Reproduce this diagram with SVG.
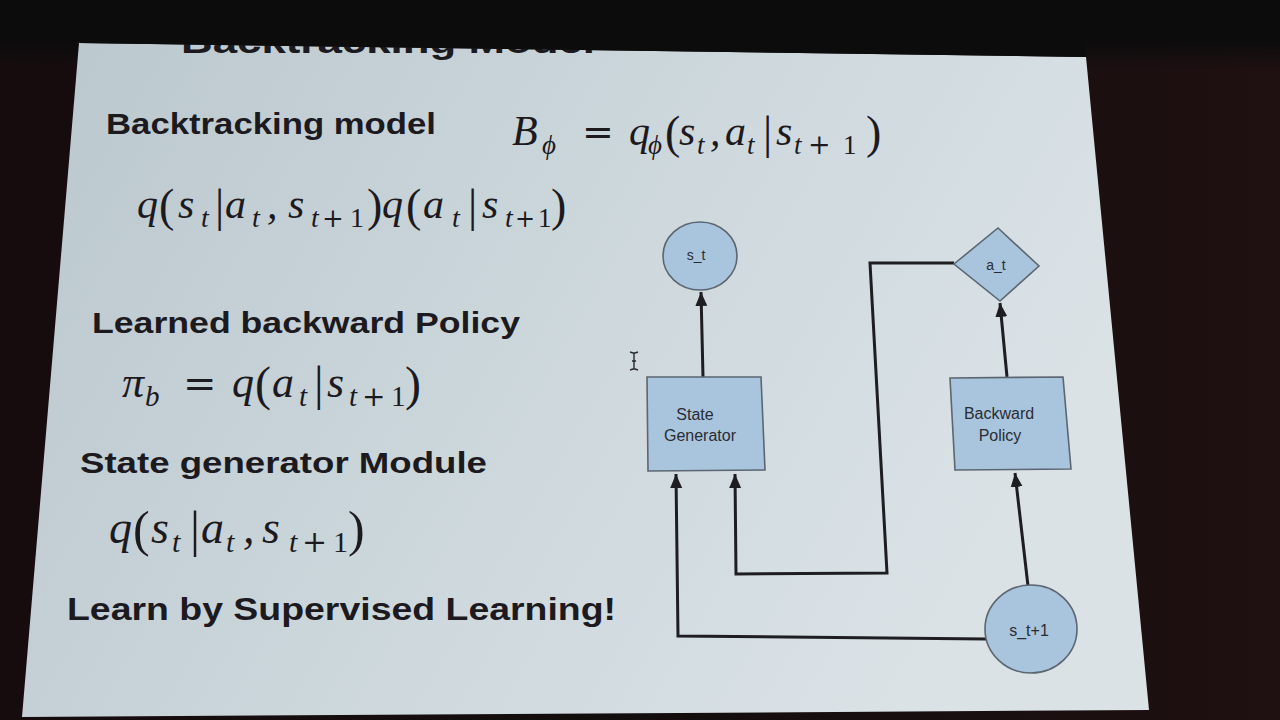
<svg xmlns="http://www.w3.org/2000/svg" width="1280" height="720" viewBox="0 0 1280 720">
<defs>
<linearGradient id="bg" x1="0" y1="0" x2="1" y2="0">
<stop offset="0" stop-color="#170c0d"/>
<stop offset="0.5" stop-color="#130d0e"/>
<stop offset="1" stop-color="#1f1011"/>
</linearGradient>
<linearGradient id="top" x1="0" y1="0" x2="0" y2="1">
<stop offset="0" stop-color="#0d0c0d"/>
<stop offset="0.6" stop-color="#0d0c0d"/>
<stop offset="1" stop-color="#0d0c0d" stop-opacity="0"/>
</linearGradient>
<linearGradient id="slide" x1="0" y1="0" x2="1" y2="0.35">
<stop offset="0" stop-color="#bac7cd"/>
<stop offset="0.5" stop-color="#cbd6db"/>
<stop offset="1" stop-color="#dae2e6"/>
</linearGradient>
<marker id="arr" markerUnits="userSpaceOnUse" markerWidth="16" markerHeight="14" refX="14" refY="6" orient="auto">
<path d="M0,0 L14,6 L0,12 z" fill="#1e1d22"/>
</marker>
<style>
.b{font-family:"Liberation Sans",Arial,sans-serif;font-weight:bold;fill:#1c1a1e}
.m{font-family:"Liberation Serif","DejaVu Serif",serif;font-style:italic;fill:#1c1a1e}
.u{font-style:normal}
.w{font-family:"DejaVu Serif",serif;font-style:normal}
.n{font-family:"Liberation Sans",Arial,sans-serif;fill:#2a2c33;text-anchor:middle}
.node{fill:#a9c5de;stroke:#5b6670;stroke-width:1.6}
.c{fill:none;stroke:#1e1d22;stroke-width:3;stroke-linejoin:miter}
</style>
</defs>
<rect x="0" y="0" width="1280" height="720" fill="url(#bg)"/>
<rect x="0" y="0" width="1280" height="70" fill="url(#top)"/>
<polygon points="79,43 1086,57 1149,710 22,717" fill="url(#slide)"/>

<text class="b" x="181" y="53" font-size="34" textLength="414" lengthAdjust="spacingAndGlyphs">Backtracking Model</text>
<polygon points="70,0 1086,0 1086,57 79,43 70,43" fill="#0d0c0d"/>

<text class="b" x="106" y="134" font-size="29" textLength="330" lengthAdjust="spacingAndGlyphs">Backtracking model</text>

<text class="m" font-size="42" y="145">
<tspan x="512">B</tspan><tspan x="542" y="154" font-size="27">ϕ</tspan><tspan class="w" x="582" y="145" font-size="38">=</tspan><tspan x="629">q</tspan><tspan x="648" y="154" font-size="27">ϕ</tspan><tspan class="u" x="665" y="148" font-size="46">(</tspan><tspan x="679" y="145">s</tspan><tspan x="697" y="154" font-size="27">t</tspan><tspan x="710" y="145">,</tspan><tspan x="725">a</tspan><tspan x="747" y="154" font-size="27">t</tspan><tspan class="u" x="763" y="148" font-size="46">|</tspan><tspan x="776" y="145">s</tspan><tspan x="794" y="154" font-size="27">t</tspan><tspan class="w" x="808" font-size="27">+</tspan><tspan class="u" x="843" font-size="27">1</tspan><tspan class="u" x="866" y="148" font-size="46">)</tspan>
</text>

<text class="m" font-size="42" y="218">
<tspan x="137">q</tspan><tspan class="u" x="159" y="221" font-size="46">(</tspan><tspan x="178" y="218">s</tspan><tspan x="201" y="227" font-size="28">t</tspan><tspan class="u" x="215" y="221" font-size="46">|</tspan><tspan x="225" y="218">a</tspan><tspan x="252" y="227" font-size="28">t</tspan><tspan x="267" y="218">,</tspan><tspan x="288">s</tspan><tspan x="311" y="227" font-size="28">t</tspan><tspan class="w" x="322" font-size="26">+</tspan><tspan class="u" x="350" font-size="28">1</tspan><tspan class="u" x="367" y="221" font-size="46">)</tspan><tspan x="382" y="218">q</tspan><tspan class="u" x="406" y="221" font-size="46">(</tspan><tspan x="423" y="218">a</tspan><tspan x="452" y="227" font-size="28">t</tspan><tspan class="u" x="468" y="221" font-size="46">|</tspan><tspan x="482" y="218">s</tspan><tspan x="505" y="227" font-size="28">t</tspan><tspan class="w" x="515" font-size="24">+</tspan><tspan class="u" x="538" font-size="27">1</tspan><tspan class="u" x="551" y="221" font-size="46">)</tspan>
</text>

<text class="b" x="92" y="333" font-size="29" textLength="428" lengthAdjust="spacingAndGlyphs">Learned backward Policy</text>

<text class="m" font-size="44" y="397">
<tspan x="122">π</tspan><tspan x="145" y="406" font-size="29">b</tspan><tspan class="w" x="183" y="397" font-size="40">=</tspan><tspan x="232">q</tspan><tspan class="u" x="255" y="400" font-size="48">(</tspan><tspan x="272" y="397">a</tspan><tspan x="299" y="406" font-size="29">t</tspan><tspan class="u" x="314" y="400" font-size="48">|</tspan><tspan x="327" y="397">s</tspan><tspan x="349" y="406" font-size="29">t</tspan><tspan class="w" x="362" font-size="28">+</tspan><tspan class="u" x="391" font-size="29">1</tspan><tspan class="u" x="405" y="400" font-size="48">)</tspan>
</text>

<text class="b" x="80" y="473" font-size="29" textLength="407" lengthAdjust="spacingAndGlyphs">State generator Module</text>

<text class="m" font-size="46" y="543">
<tspan x="109">q</tspan><tspan class="u" x="133" y="546" font-size="50">(</tspan><tspan x="151" y="543">s</tspan><tspan x="172" y="552" font-size="30">t</tspan><tspan class="u" x="190" y="546" font-size="50">|</tspan><tspan x="201" y="543">a</tspan><tspan x="226" y="552" font-size="30">t</tspan><tspan x="243" y="543">,</tspan><tspan x="262">s</tspan><tspan x="289" y="552" font-size="30">t</tspan><tspan class="w" x="302" font-size="30">+</tspan><tspan class="u" x="333" font-size="30">1</tspan><tspan class="u" x="348" y="546" font-size="50">)</tspan>
</text>

<text class="b" x="67" y="620" font-size="32" textLength="549" lengthAdjust="spacingAndGlyphs">Learn by Supervised Learning!</text>

<g id="cursor">
<path d="M634,353 L634,369 M630,352 L633,353 L635,353 L638,352 M630,370 L633,369 L635,369 L638,370 M632,361 L636,361" fill="none" stroke="#2a2a2e" stroke-width="1.4"/>
</g>

<g id="connectors">
<path class="c" d="M703,377 L701,292" marker-end="url(#arr)"/>
<path class="c" d="M1007,377 L1000,303" marker-end="url(#arr)"/>
<path class="c" d="M954,263 L870,263 L887,573 L736,574 L735,474" marker-end="url(#arr)"/>
<path class="c" d="M986,639 L678,636 L676,474" marker-end="url(#arr)"/>
<path class="c" d="M1028,586 L1015,473" marker-end="url(#arr)"/>
</g>

<g id="node-st">
<ellipse class="node" cx="700" cy="256" rx="37" ry="34"/>
<text class="n" x="696" y="260" font-size="14">s_t</text>
</g>

<g id="node-at">
<polygon class="node" points="954,264 998,228 1039,266 1000,301"/>
<text class="n" x="996" y="270" font-size="14">a_t</text>
</g>

<g id="node-state-generator">
<polygon class="node" points="647,377 761,377 765,470 648,471"/>
<text class="n" x="695" y="420" font-size="16">State</text>
<text class="n" x="700" y="441" font-size="16">Generator</text>
</g>

<g id="node-backward-policy">
<polygon class="node" points="950,378 1063,377 1071,469 955,470"/>
<text class="n" x="999" y="419" font-size="16">Backward</text>
<text class="n" x="1000" y="441" font-size="16">Policy</text>
</g>

<g id="node-st1">
<ellipse class="node" cx="1031" cy="629" rx="46" ry="44"/>
<text class="n" x="1029" y="636" font-size="16">s_t+1</text>
</g>
</svg>
